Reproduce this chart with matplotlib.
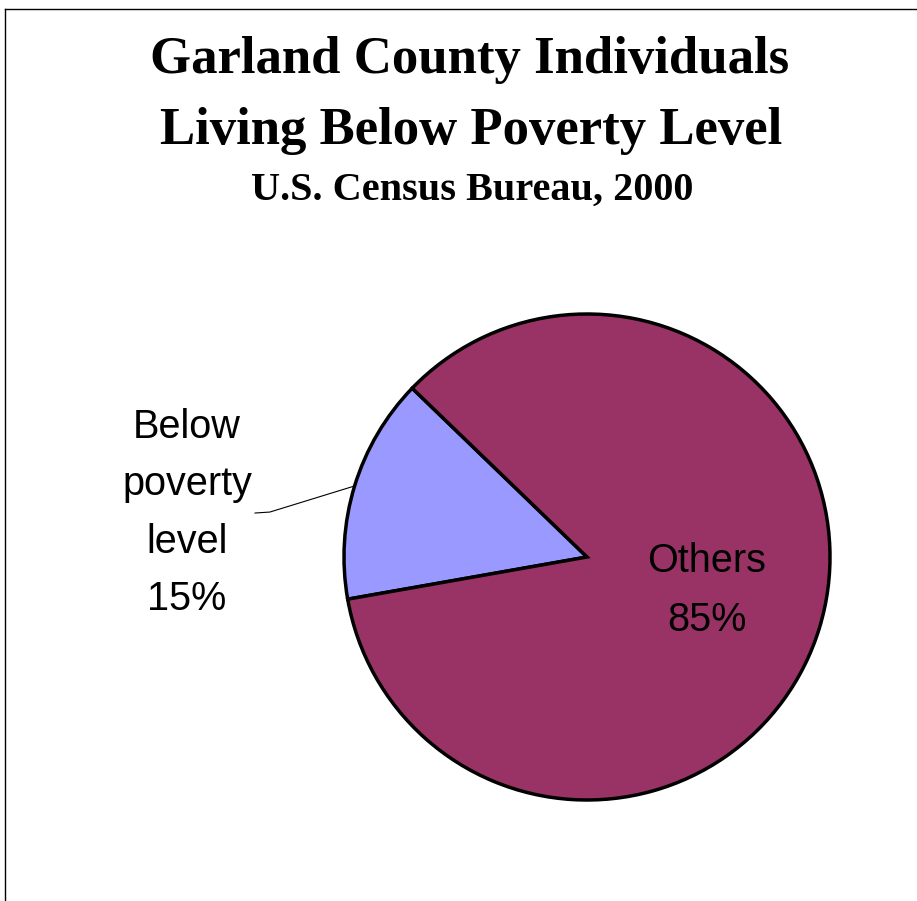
import numpy as np
import matplotlib
matplotlib.use('Agg')
import matplotlib.pyplot as plt
from matplotlib.lines import Line2D

labels = ['Below\npoverty\nlevel', 'Others']
values = [15, 85]
colors = ['#9999FF', '#993366']
title_lines = ['Garland County Individuals', 'Living Below Poverty Level']
subtitle = 'U.S. Census Bureau, 2000'

W, H = 917, 901
fig = plt.figure(figsize=(W / 100, H / 100), dpi=100)

# frame (left and top edges only, as in the source)
fig.add_artist(Line2D([5 / W, 5 / W], [0, 1 - 9 / H], color='black', lw=1))
fig.add_artist(Line2D([5 / W, 1], [1 - 9 / H, 1 - 9 / H], color='black', lw=1))

# titles
fig.text(470 / W, 1 - 60 / H, title_lines[0], ha='center', va='center',
         family='Liberation Serif', weight='bold', fontsize=38)
fig.text(471 / W, 1 - 131 / H, title_lines[1], ha='center', va='center',
         family='Liberation Serif', weight='bold', fontsize=38)
fig.text(472 / W, 1 - 190 / H, subtitle, ha='center', va='center',
         family='Liberation Serif', weight='bold', fontsize=29)

# pie axes: center (587, 557), radius 243 px
cx, cy, r = 587, 557, 243
ax = fig.add_axes([(cx - r) / W, 1 - (cy + r) / H, 2 * r / W, 2 * r / H])

start = 136
wedges, _ = ax.pie(values, colors=colors, startangle=start, counterclock=True,
                   wedgeprops=dict(edgecolor='black', linewidth=2.5))
ax.set_xlim(-1, 1)
ax.set_ylim(-1, 1)
ax.axis('off')
for w in wedges:
    w.set_clip_on(False)

pct = [f'{v}%' for v in values]
mids = [np.deg2rad((w.theta1 + w.theta2) / 2) for w in wedges]

# Others label inside
ax.text(0.5 * np.cos(mids[1]) + 0.015, 0.5 * np.sin(mids[1]) + 0.008,
        labels[1] + '\n' + pct[1],
        ha='center', va='center', family='Liberation Sans', fontsize=28.5,
        linespacing=1.72, clip_on=False)

# Below poverty label outside with leader line
lx, ly = -1.646, 0.181
ax.text(lx, ly, labels[0] + '\n' + pct[0], ha='center', va='center',
        family='Liberation Sans', fontsize=28.5, linespacing=1.65, clip_on=False)
ex, ey = np.cos(mids[0]), np.sin(mids[0])
ax.plot([-1.366, -1.305, ex], [0.181, 0.185, ey], color='black', lw=0.8,
        clip_on=False)

fig.savefig('out.png', dpi=100)
